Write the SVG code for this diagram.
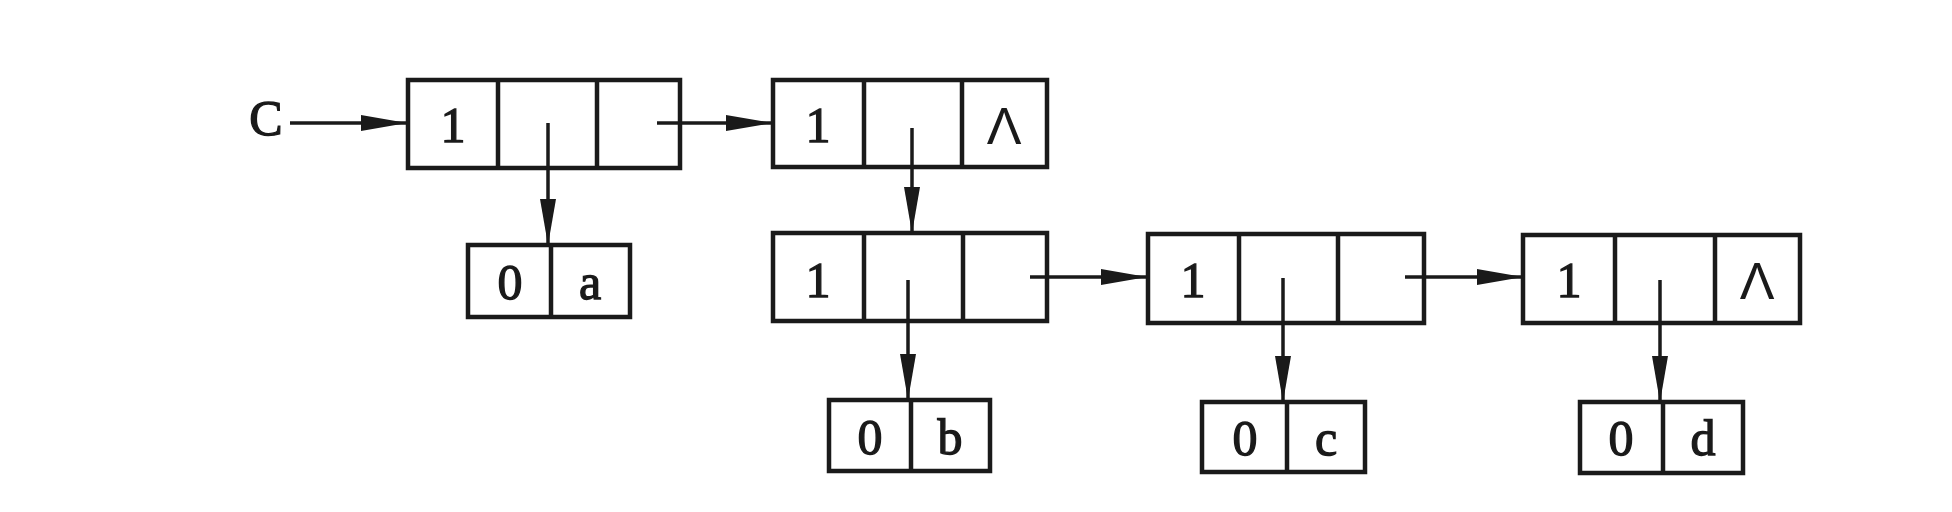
<svg xmlns="http://www.w3.org/2000/svg" width="1952" height="512" viewBox="0 0 1952 512">
<style>
.box{fill:none;stroke:#1a1a1a;stroke-width:4.5}
.div{stroke:#1a1a1a;stroke-width:4.5}
.t{font-family:"Liberation Serif","Times New Roman",serif;font-size:50px;fill:#1a1a1a;stroke:#1a1a1a;stroke-width:1.3;text-anchor:middle}
.nil{font-family:"Liberation Sans",Arial,sans-serif;font-size:52px;fill:#1a1a1a;text-anchor:middle}
.e{stroke:#1a1a1a;stroke-width:3.5;fill:none;marker-end:url(#ah)}
</style>
<defs>
<marker id="ah" viewBox="0 0 46 18" refX="46" refY="9" markerWidth="46" markerHeight="18" markerUnits="userSpaceOnUse" orient="auto">
<path d="M0,1 L46,9 L0,17 Z" fill="#1a1a1a"/>
</marker>
</defs>
<rect width="1952" height="512" fill="#ffffff"/>
<text id="head" class="t" x="266" y="135" font-size="52">C</text>
<g id="n1">
<rect class="box" x="408" y="80" width="272" height="88"/>
<line class="div" x1="498" y1="80" x2="498" y2="168"/>
<line class="div" x1="597" y1="80" x2="597" y2="168"/>
<text class="t" x="453" y="142">1</text>
</g>
<g id="n2">
<rect class="box" x="773" y="80" width="274" height="87"/>
<line class="div" x1="864" y1="80" x2="864" y2="167"/>
<line class="div" x1="962" y1="80" x2="962" y2="167"/>
<text class="t" x="818" y="142">1</text>
<text class="nil" x="1004" y="144">Λ</text>
</g>
<g id="a">
<rect class="box" x="468" y="245" width="162" height="72"/>
<line class="div" x1="551" y1="245" x2="551" y2="317"/>
<text class="t" x="510" y="299">0</text>
<text class="t" x="590" y="299">a</text>
</g>
<g id="n3">
<rect class="box" x="773" y="233" width="274" height="88"/>
<line class="div" x1="864" y1="233" x2="864" y2="321"/>
<line class="div" x1="963" y1="233" x2="963" y2="321"/>
<text class="t" x="818" y="297">1</text>
</g>
<g id="n4">
<rect class="box" x="1148" y="234" width="276" height="89"/>
<line class="div" x1="1239" y1="234" x2="1239" y2="323"/>
<line class="div" x1="1338" y1="234" x2="1338" y2="323"/>
<text class="t" x="1193" y="297">1</text>
</g>
<g id="n5">
<rect class="box" x="1523" y="235" width="277" height="88"/>
<line class="div" x1="1615" y1="235" x2="1615" y2="323"/>
<line class="div" x1="1715" y1="235" x2="1715" y2="323"/>
<text class="t" x="1569" y="297">1</text>
<text class="nil" x="1757" y="299">Λ</text>
</g>
<g id="b">
<rect class="box" x="829" y="400" width="161" height="71"/>
<line class="div" x1="911" y1="400" x2="911" y2="471"/>
<text class="t" x="870" y="454">0</text>
<text class="t" x="950" y="454">b</text>
</g>
<g id="c">
<rect class="box" x="1202" y="402" width="163" height="70"/>
<line class="div" x1="1287" y1="402" x2="1287" y2="472"/>
<text class="t" x="1245" y="455">0</text>
<text class="t" x="1326" y="455">c</text>
</g>
<g id="d">
<rect class="box" x="1580" y="402" width="163" height="71"/>
<line class="div" x1="1663" y1="402" x2="1663" y2="473"/>
<text class="t" x="1621" y="455">0</text>
<text class="t" x="1703" y="455">d</text>
</g>
<g id="connectors">
<line class="e" x1="290" y1="123" x2="407" y2="123"/>
<line class="e" x1="657" y1="123" x2="772" y2="123"/>
<line class="e" x1="548" y1="123" x2="548" y2="245"/>
<line class="e" x1="912" y1="128" x2="912" y2="233"/>
<line class="e" x1="908" y1="280" x2="908" y2="400"/>
<line class="e" x1="1030" y1="277" x2="1147" y2="277"/>
<line class="e" x1="1283" y1="278" x2="1283" y2="402"/>
<line class="e" x1="1405" y1="277" x2="1523" y2="277"/>
<line class="e" x1="1660" y1="280" x2="1660" y2="402"/>
</g>
</svg>
